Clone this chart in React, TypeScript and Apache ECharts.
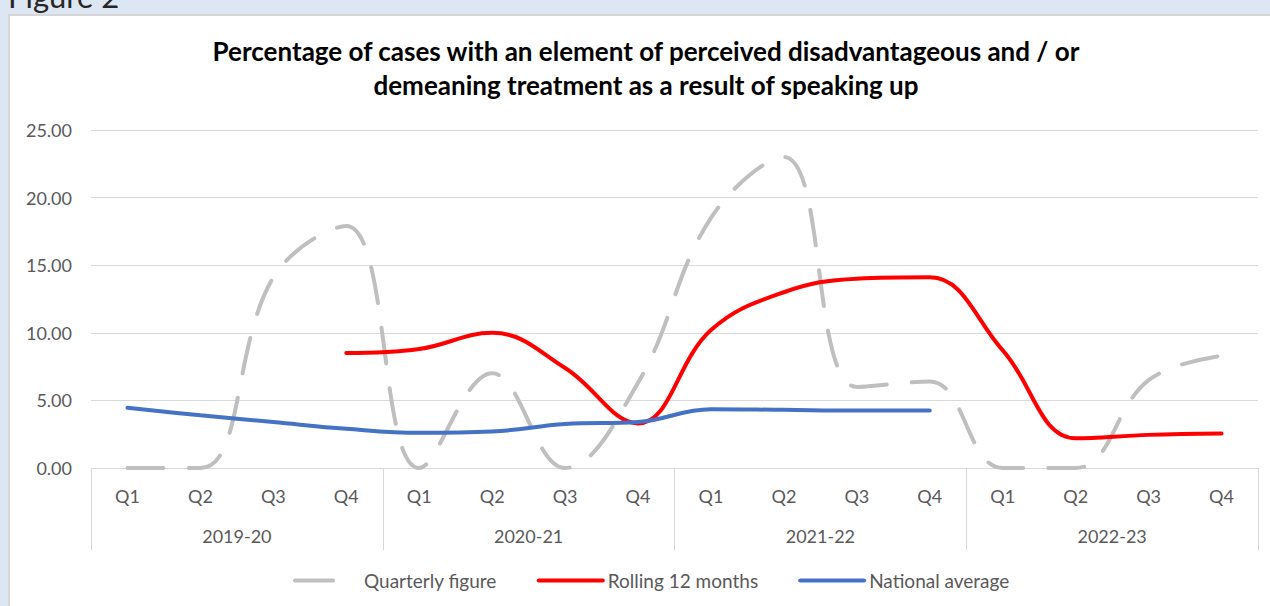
import React, { useEffect, useRef } from "react";
import * as echarts from "echarts";

const quarters = ["Q1", "Q2", "Q3", "Q4", "Q1", "Q2", "Q3", "Q4", "Q1", "Q2", "Q3", "Q4", "Q1", "Q2", "Q3", "Q4"];
const years = ["2019-20", "2020-21", "2021-22", "2022-23"];
const quarterly = [0, 0, 14.1, 17.9, 0, 7.0, 0, 6.3, 18.5, 23.0, 6.0, 6.4, 0, 0, 6.5, 8.3];
const rolling = [null, null, null, 8.5, 8.8, 10.0, 7.4, 3.3, 10.2, 13.0, 14.0, 14.1, 8.7, 2.2, 2.45, 2.55];
const national = [4.45, 3.9, 3.4, 2.9, 2.6, 2.7, 3.25, 3.4, 4.35, 4.3, 4.25, 4.25, null, null, null, null];
const yTicks = [0, 5, 10, 15, 20, 25];

const FONT = "Lato, 'Open Sans', sans-serif";
const LABEL = "#595959";
const GRID = "#d9d9d9";

export default function App() {
  const ref = useRef<HTMLDivElement>(null);
  useEffect(() => {
    if (!ref.current) return;
    const chart = echarts.init(ref.current, null, { renderer: "svg" });
    chart.setOption({
      animation: false,
      textStyle: { fontFamily: FONT },
      title: {
        text: "Percentage of cases with an element of perceived disadvantageous and / or\ndemeaning treatment as a result of speaking up",
        left: 641,
        top: 29,
        textAlign: "center",
        textStyle: { fontFamily: FONT, fontSize: 26, fontWeight: "bold", color: "#000", lineHeight: 34 },
      },
      grid: { left: 91, right: 12, top: 130, bottom: 138 },
      legend: {
        top: 566,
        left: 288,
        itemWidth: 64,
        itemHeight: 16,
        itemGap: 40,
        lineStyle: { width: 4 },
        itemStyle: { opacity: 0 },
        textStyle: { color: LABEL, fontSize: 19, fontFamily: FONT },
        data: [
          { name: "Quarterly figure", lineStyle: { type: [38, 100], width: 4, cap: "round" } },
          { name: "Rolling 12 months" },
          { name: "National average" },
        ],
      },
      xAxis: [
        {
          type: "category",
          data: quarters,
          position: "bottom",
          boundaryGap: true,
          axisLine: { show: true, lineStyle: { color: GRID, width: 1 } },
          axisTick: { show: false },
          axisLabel: { color: LABEL, fontSize: 18, margin: 19, interval: 0, fontFamily: FONT },
        },
        {
          type: "category",
          data: years,
          position: "bottom",
          boundaryGap: true,
          axisLine: { show: false },
          axisTick: { show: true, length: 82, interval: 0, lineStyle: { color: GRID, width: 1 } },
          axisLabel: { color: LABEL, fontSize: 18, margin: 59, interval: 0, fontFamily: FONT },
        },
      ],
      yAxis: {
        type: "value",
        min: yTicks[0],
        max: yTicks[yTicks.length - 1],
        interval: 5,
        axisLine: { show: false },
        axisTick: { show: false },
        axisLabel: { color: LABEL, fontSize: 18, margin: 19, fontFamily: FONT, formatter: (v: number) => v.toFixed(2) },
        splitLine: { lineStyle: { color: GRID, width: 1 } },
      },
      series: [
        {
          name: "Quarterly figure",
          type: "line",
          data: quarterly,
          smooth: 0.4,
          symbol: "none",
          lineStyle: { color: "#bfbfbf", width: 4, type: [36, 25], cap: "round" },
          itemStyle: { color: "#bfbfbf" },
          z: 1,
        },
        {
          name: "Rolling 12 months",
          type: "line",
          data: rolling,
          smooth: 0.4,
          symbol: "none",
          lineStyle: { color: "#ff0000", width: 4, cap: "round" },
          itemStyle: { color: "#ff0000" },
          z: 2,
        },
        {
          name: "National average",
          type: "line",
          data: national,
          smooth: 0.4,
          symbol: "none",
          lineStyle: { color: "#4472c4", width: 4, cap: "round" },
          itemStyle: { color: "#4472c4" },
          z: 3,
        },
      ],
    });
    return () => chart.dispose();
  }, []);

  return (
    <div style={{ position: "fixed", left: 0, top: 0, width: 1270, height: 606, background: "#dde7f3", overflow: "hidden" }}>
      <div
        style={{
          position: "absolute",
          left: 8,
          top: -19,
          fontFamily: FONT,
          fontSize: 31,
          lineHeight: "31px",
          color: "#262626",
          whiteSpace: "nowrap",
        }}
      >
        Figure 2
      </div>
      <div
        style={{
          position: "absolute",
          left: 8,
          top: 14,
          width: 1270,
          height: 600,
          background: "#ffffff",
          borderTop: "2px solid #d6d6d6",
          borderLeft: "2px solid #d6d6d6",
        }}
      />
      <div ref={ref} style={{ position: "absolute", left: 0, top: 0, width: 1270, height: 606 }} />
    </div>
  );
}
